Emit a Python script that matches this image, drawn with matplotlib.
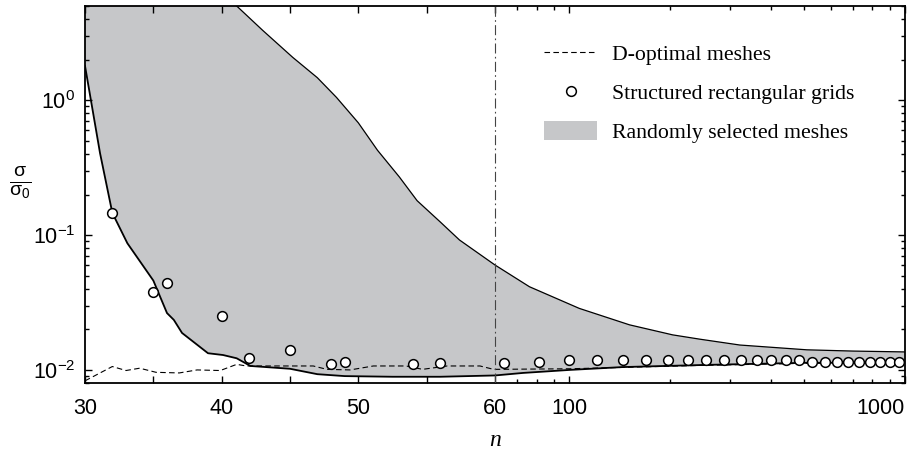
import numpy as np
import matplotlib
matplotlib.use('Agg')
import matplotlib.pyplot as plt
from matplotlib.patches import Patch
from matplotlib.lines import Line2D

plt.rcParams['font.family'] = 'Liberation Sans'
plt.rcParams['mathtext.fontset'] = 'custom'
plt.rcParams['mathtext.rm'] = 'Liberation Sans'
plt.rcParams['mathtext.it'] = 'Liberation Sans:italic'
plt.rcParams['mathtext.bf'] = 'Liberation Sans:bold'

# boundaries of the randomly selected meshes band
n_up = [30, 36, 39, 41.1, 43, 45.2, 47, 48.4, 50, 51.4, 53, 54.3, 56, 57.4, 60,
        76, 107, 151, 203, 245, 322, 510, 700, 1000]
v_up = [40, 14, 8.0, 5.0, 3.3, 2.08, 1.47, 1.05, 0.68, 0.426, 0.27, 0.18, 0.125, 0.092, 0.06,
        0.0414, 0.0286, 0.0216, 0.0182, 0.0169, 0.0153, 0.0141, 0.0138, 0.0136]

n_lo = [30, 31.1, 32, 33.1, 35, 36, 36.5, 37.1, 39, 40.1, 41.1, 42.1, 45, 47, 49, 52.5, 56, 60,
        72.7, 100, 144, 257, 510, 1000]
v_lo = [1.8, 0.405, 0.146, 0.087, 0.046, 0.0264, 0.0235, 0.0188, 0.0133, 0.0129, 0.0122, 0.0107,
        0.0102, 0.0093, 0.0090, 0.0089, 0.0089, 0.0091,
        0.0095, 0.0100, 0.0105, 0.0109, 0.0113, 0.0113]

# D-optimal meshes
n_d = [30, 32, 33, 34, 35.2, 36.9, 38.2, 39.9, 41.1, 41.8, 44.3, 46.7, 47.7, 49.4, 51.1, 53.5,
       54.7, 56.5, 58.9, 59.9, 60, 100, 245, 510, 1000]
v_d = [0.0083, 0.0106, 0.0099, 0.0103, 0.0096, 0.0095, 0.0100, 0.0099, 0.0110, 0.0107, 0.0107,
       0.0107, 0.0101, 0.0100, 0.0107, 0.0107, 0.0101, 0.0107, 0.0107, 0.0101, 0.0101, 0.0102,
       0.0108, 0.0112, 0.0113]

# structured rectangular grids
n_c = [32, 35, 36, 40, 42, 45, 48, 49, 54, 56, 64, 81, 100, 121, 144, 169, 196, 225, 256, 289,
       324, 361, 400, 441, 484, 529, 576, 625, 676, 729, 784, 841, 900, 961]
v_c = [0.145, 0.0376, 0.0443, 0.0252, 0.0122, 0.0141, 0.0110, 0.0114, 0.0110, 0.0112, 0.0112,
       0.0115, 0.0119, 0.0119, 0.0119, 0.0119, 0.0119, 0.0119, 0.0118, 0.0118, 0.0118, 0.0118,
       0.0118, 0.0118, 0.0118, 0.0115, 0.0115, 0.0115, 0.0115, 0.0115, 0.0115, 0.0115, 0.0115,
       0.0115]

n_split = 60
L = np.log10(1000 / n_split)


def fwd(x):
    x = np.asarray(x, float)
    with np.errstate(all='ignore'):
        return np.where(x <= n_split, (x - 30) / 30,
                        1 + np.log10(np.maximum(x, 1e-9) / n_split) / L)


def inv(y):
    y = np.asarray(y, float)
    with np.errstate(all='ignore'):
        return np.where(y <= 1, 30 + 30 * y, n_split * 10 ** ((y - 1) * L))


fig = plt.figure(figsize=(9.14, 4.58), dpi=100)
ax = fig.add_axes([85 / 914, 1 - 383 / 458, 820 / 914, 377 / 458])
ax.set_xscale('function', functions=(fwd, inv))
ax.set_yscale('log')

band_x = np.r_[n_lo, n_up[::-1]]
band_y = np.r_[v_lo, v_up[::-1]]
ax.fill(band_x, band_y, color='#c6c7c9', lw=0, zorder=1)
ax.plot(n_up, v_up, color='black', lw=0.9, zorder=2)
ax.plot(n_lo, v_lo, color='black', lw=1.3, zorder=2)
ax.plot(n_d, v_d, color='black', lw=0.8, dashes=(5, 3), zorder=3)
ax.axvline(n_split, color='#444444', lw=0.8, dashes=(9, 3, 1.5, 3), zorder=3)
ax.plot(n_c, v_c, 'o', ms=7, mfc='white', mec='black', mew=1.1, zorder=4)

ax.set_xlim(30, 1000)
ax.set_ylim(0.008, 5)

ax.set_xticks([30, 35, 40, 45, 50, 55, 60, 100, 1000])
ax.set_xticklabels(['30', '', '40', '', '50', '', '60', '100', '1000'])
ax.set_xticks([70, 80, 90, 200, 300, 400, 500, 600, 700, 800, 900], minor=True)
ax.set_xticklabels([], minor=True)
ax.get_xticklabels()[-1].set_horizontalalignment('right')

ax.tick_params(which='both', direction='in', top=True, right=True, labelsize=15.5, width=1.0)
ax.tick_params(which='major', length=5)
ax.tick_params(which='minor', length=3)
ax.tick_params(axis='x', which='major', pad=11)
ax.tick_params(axis='y', which='major', pad=7)
for s in ax.spines.values():
    s.set_linewidth(1.3)

fig.text(20 / 914, 1 - 183 / 458, r'$\frac{\mathrm{\sigma}}{\mathrm{\sigma}_0}$',
         fontsize=20, ha='center', va='center')
fig.text(495 / 914, 1 - 440 / 458, 'n', family='Liberation Serif', style='italic',
         fontsize=17, ha='center', va='center')

handles = [Line2D([], [], color='black', lw=0.8, dashes=(5, 3)),
           Line2D([], [], ls='none', marker='o', ms=7, mfc='white', mec='black', mew=1.1),
           Patch(color='#c6c7c9', lw=0)]
labels = ['D-optimal meshes', 'Structured rectangular grids', 'Randomly selected meshes']
ax.legend(handles, labels, loc='upper left', bbox_to_anchor=(0.547, 0.931), frameon=False,
          prop={'family': 'Liberation Serif', 'size': 15.7}, handlelength=2.4,
          handleheight=1.0, handletextpad=0.7, labelspacing=0.77, borderpad=0)

fig.savefig('out.png', dpi=100)
